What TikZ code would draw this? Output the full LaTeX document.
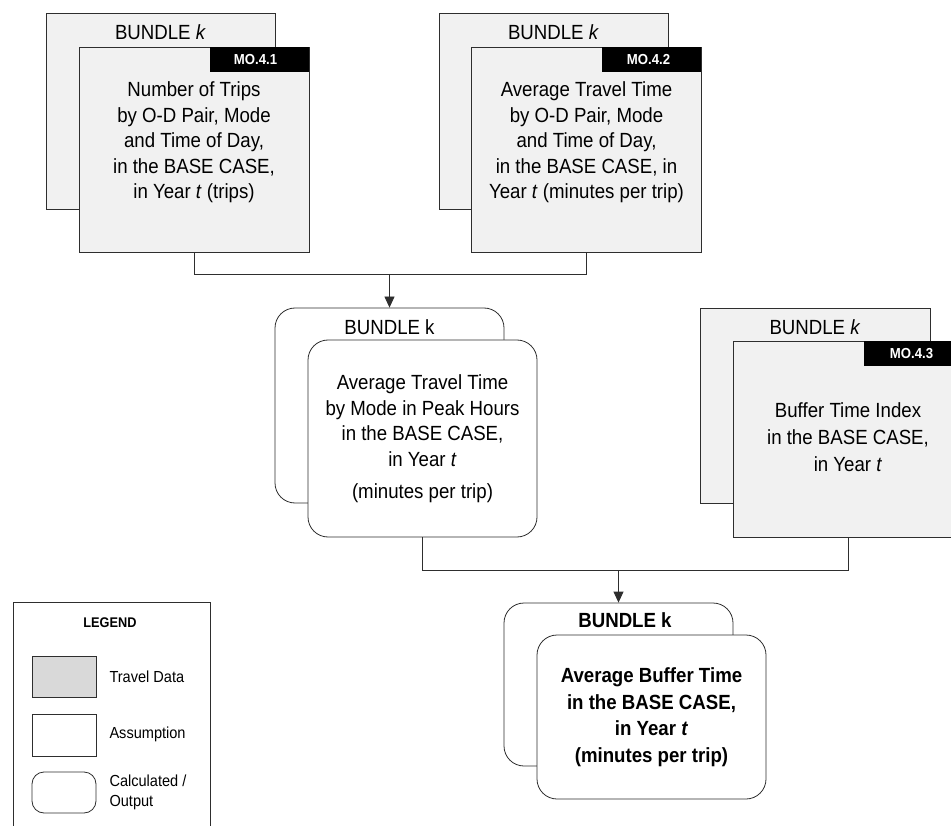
\documentclass[tikz,border=0pt]{standalone}
\usepackage{fontspec}
\setmainfont{Liberation Sans}[FakeStretch=0.91]
\usetikzlibrary{arrows.meta}
\definecolor{datafill}{HTML}{F1F1F1}
\definecolor{legendgray}{HTML}{D9D9D9}
\definecolor{edge}{HTML}{2E2E2E}
\begin{document}
\begin{tikzpicture}[x=1pt,y=-1pt,
  databox/.style={draw=edge,line width=0.8pt,fill=datafill,inner sep=0pt},
  calcbox/.style={draw=edge,line width=0.8pt,fill=white,rounded corners=20pt,inner sep=0pt},
  tag/.style={fill=black,inner sep=0pt,minimum width=99,minimum height=25},
  tagtext/.style={text=white,inner sep=0pt,font=\fontsize{14.5}{16}\selectfont\bfseries},
  title/.style={font=\fontsize{20.5}{24}\selectfont},
  body/.style={align=center,font=\fontsize{20.5}{25.5}\selectfont},
  conn/.style={draw=edge,line width=0.8pt},
  arrow/.style={conn,-{Triangle[width=10pt,length=11pt]}},
  legtext/.style={anchor=west,align=left,font=\fontsize{16}{20}\selectfont}]
\path[use as bounding box] (0,0) rectangle (951,826);
\clip (0,0) rectangle (951,826);

% --- MO.4.1: number of trips ---
\node[databox,minimum width=229,minimum height=196] (b1back) at (160.5,111) {};
\node[title] (b1title) at (160.5,32) {BUNDLE \textit{k}};
\node[databox,minimum width=230,minimum height=205] (b1front) at (194,149.5) {};
\node[tag] (b1tag) at (259.5,59.5) {};
\node[tagtext] (b1tagtext) at ([xshift=-4]b1tag.center) {MO.4.1};
\node[body] (b1text) at (194,142.5) {Number of Trips\\by O-D Pair, Mode\\and Time of Day,\\in the BASE CASE,\\in Year \textit{t} (trips)};

% --- MO.4.2: average travel time ---
\node[databox,minimum width=229,minimum height=196] (b2back) at (553.5,111) {};
\node[title] (b2title) at (553.5,32) {BUNDLE \textit{k}};
\node[databox,minimum width=230,minimum height=205] (b2front) at (586.5,149.5) {};
\node[tag] (b2tag) at (651.5,59.5) {};
\node[tagtext] (b2tagtext) at ([xshift=-3]b2tag.center) {MO.4.2};
\node[body] (b2text) at (586.5,142.5) {Average Travel Time\\by O-D Pair, Mode\\and Time of Day,\\in the BASE CASE, in\\Year \textit{t} (minutes per trip)};

% --- calculated: travel time in peak hours ---
\node[calcbox,minimum width=229,minimum height=195] (mback) at (389.5,405.5) {};
\node[title] (mtitle) at (389.5,327) {BUNDLE k};
\node[calcbox,minimum width=229,minimum height=197] (mfront) at (422.5,438.5) {};
\node[body] (mtext) at (422.5,439) {Average Travel Time\\by Mode in Peak Hours\\in the BASE CASE,\\in Year \textit{t}\\[7pt](minutes per trip)};

% --- MO.4.3: buffer time index ---
\node[databox,minimum width=230,minimum height=195] (b3back) at (815,405.5) {};
\node[title] (b3title) at (815,327) {BUNDLE \textit{k}};
\node[databox,minimum width=230,minimum height=196] (b3front) at (848,439) {};
\node[tag] (b3tag) at (913.5,353.5) {};
\node[tagtext] (b3tagtext) at ([xshift=-2]b3tag.center) {MO.4.3};
\node[body,font=\fontsize{20.5}{27}\selectfont] (b3text) at (848,437.5) {Buffer Time Index\\in the BASE CASE,\\in Year \textit{t}};

% --- output: average buffer time ---
\node[calcbox,minimum width=229,minimum height=163] (oback) at (618.5,684.5) {};
\node[title,font=\fontsize{20.5}{24}\selectfont\bfseries] (otitle) at (625,620) {BUNDLE k};
\node[calcbox,minimum width=229,minimum height=164] (ofront) at (651.5,717) {};
\node[body,font=\fontsize{20.5}{26.5}\selectfont\bfseries] (otext) at (651.5,717) {Average Buffer Time\\in the BASE CASE,\\in Year \textit{t}\\(minutes per trip)};

% --- connectors ---
\coordinate (j1) at (389.5,274);
\draw[conn] (b1front.south) -- ++(0,22) -| (b2front.south);
\draw[arrow] (j1) -- (mback.north);
\coordinate (j2) at (618.5,570);
\draw[conn] (mfront.south) -- ++(0,33) -| (b3front.south);
\draw[arrow] (j2) -- (oback.north);

% --- legend ---
\draw[draw=edge,line width=0.8pt] (13,840) -- (13,602) coordinate (legtl) -- (210,602) -- (210,840);
\node[font=\fontsize{14}{16}\selectfont\bfseries] (legtitle) at (110,623) {LEGEND};
\node[draw=edge,line width=0.8pt,fill=legendgray,minimum width=64,minimum height=41,inner sep=0pt] (lg1) at (64,676.5) {};
\node[legtext] (lt1) at (106,677) {Travel Data};
\node[draw=edge,line width=0.8pt,fill=white,minimum width=64,minimum height=42,inner sep=0pt] (lg2) at (64,735) {};
\node[legtext] (lt2) at (106,734) {Assumption};
\node[draw=edge,line width=0.8pt,fill=white,rounded corners=12pt,minimum width=64,minimum height=41,inner sep=0pt] (lg3) at (64,792.5) {};
\node[legtext] (lt3) at (106,792) {Calculated /\\Output};
\end{tikzpicture}
\end{document}
